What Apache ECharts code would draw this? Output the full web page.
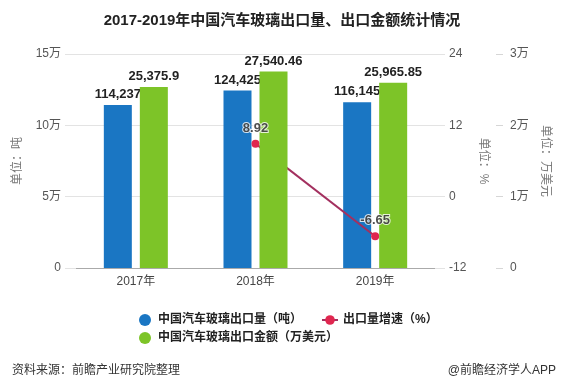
<!DOCTYPE html>
<html>
<head>
<meta charset="utf-8">
<script src="https://cdn.jsdelivr.net/npm/echarts@6/dist/echarts.min.js"></script>
<style>
html,body{margin:0;padding:0;background:#fff;}
#chart{width:564px;height:387px;}
</style>
</head>
<body>
<div id="chart"></div>
<script>
const categories = ['2017年', '2018年', '2019年'];
const exportVolume = [114237, 124425, 116145];
const exportGrowth = [null, 8.92, -6.65];
const exportValue = [25375.9, 27540.46, 25965.85];
const leftTickLabels = ['0', '5万', '10万', '15万'];
const midTickLabels = ['-12', '0', '12', '24'];
const rightTickLabels = ['0', '1万', '2万', '3万'];
const seriesNames = ['中国汽车玻璃出口量（吨）', '出口量增速（%）', '中国汽车玻璃出口金额（万美元）'];

const FONT = "'Liberation Sans', 'Noto Sans CJK SC', sans-serif";
const fmt = v => Number(v).toLocaleString('en-US', {maximumFractionDigits: 2});

const chart = echarts.init(document.getElementById('chart'), null, {renderer: 'canvas'});
const labelStyle = {
  show: true, position: 'top', distance: 4,
  color: '#222', fontSize: 13, fontWeight: 'bold', fontFamily: FONT,
  textBorderColor: '#fff', textBorderWidth: 2,
  formatter: p => fmt(p.value)
};
const legendText = {fontSize: 12, color: '#222', fontWeight: 'bold', fontFamily: FONT};
const option = {
  backgroundColor: '#fff',
  textStyle: {fontFamily: FONT},
  title: [
    {text: '2017-2019年中国汽车玻璃出口量、出口金额统计情况', left: 'center', top: 8,
     textStyle: {fontSize: 15, fontWeight: 'bold', color: '#222', fontFamily: FONT}},
    {text: '资料来源：前瞻产业研究院整理', left: 7, top: 360,
     textStyle: {fontSize: 12, fontWeight: 'normal', color: '#333', fontFamily: FONT}},
    {text: '@前瞻经济学人APP', right: 3, top: 360,
     textStyle: {fontSize: 12, fontWeight: 'normal', color: '#333', fontFamily: FONT}}
  ],
  legend: [
    {data: [{name: seriesNames[0], icon: 'circle'}, {name: seriesNames[1]}],
     left: 134, top: 309, itemWidth: 16, itemHeight: 12, itemGap: 19, textStyle: legendText},
    {data: [{name: seriesNames[2], icon: 'circle'}],
     left: 134, top: 327, itemWidth: 16, itemHeight: 12, textStyle: legendText}
  ],
  grid: {left: 76, right: 129, top: 54, bottom: 119, containLabel: false},
  xAxis: {
    type: 'category', data: categories,
    axisLine: {lineStyle: {color: '#aaa'}},
    axisTick: {alignWithLabel: true, length: 4, lineStyle: {color: '#aaa'}},
    axisLabel: {color: '#444', fontSize: 12, margin: 8}
  },
  yAxis: [
    {type: 'value', min: 0, max: 150000, interval: 50000, position: 'left',
     name: '单位：吨', nameLocation: 'middle', nameGap: 52, nameRotate: 90,
     nameTextStyle: {color: '#777', fontSize: 12},
     axisLine: {show: false},
     axisTick: {show: true, length: 11, lineStyle: {color: '#e3e3e3'}},
     axisLabel: {color: '#555', fontSize: 12, margin: 15, formatter: (v, i) => leftTickLabels[i]},
     splitLine: {lineStyle: {color: '#e3e3e3'}}},
    {type: 'value', min: -12, max: 24, interval: 12, position: 'right',
     name: '单位：%', nameLocation: 'middle', nameGap: 39, nameRotate: -90,
     nameTextStyle: {color: '#777', fontSize: 12},
     axisLine: {show: false},
     axisTick: {show: true, length: 10, lineStyle: {color: '#e3e3e3'}},
     axisLabel: {color: '#555', fontSize: 12, margin: 14, formatter: (v, i) => midTickLabels[i]},
     splitLine: {show: false}},
    {type: 'value', min: 0, max: 30000, interval: 10000, position: 'right', offset: 61,
     name: '单位：万美元', nameLocation: 'middle', nameGap: 43, nameRotate: -90,
     nameTextStyle: {color: '#777', fontSize: 12},
     axisLine: {show: false},
     axisTick: {show: true, length: 7, lineStyle: {color: '#d6d6d6'}},
     axisLabel: {color: '#555', fontSize: 12, margin: 14, formatter: (v, i) => rightTickLabels[i]},
     splitLine: {show: false}}
  ],
  series: [
    {name: seriesNames[0], type: 'bar', data: exportVolume, yAxisIndex: 0, z: 2,
     barWidth: 28, barGap: '28.6%', itemStyle: {color: '#1a76c3'}, label: labelStyle},
    {name: seriesNames[1], type: 'line', data: exportGrowth, yAxisIndex: 1, z: 2,
     symbol: 'circle', symbolSize: 8, showSymbol: true,
     itemStyle: {color: '#e0264f'}, lineStyle: {color: '#a3305f', width: 2},
     label: {show: false}},
    {name: seriesNames[2], type: 'bar', data: exportValue, yAxisIndex: 2, z: 3,
     barWidth: 28, itemStyle: {color: '#7dc428'}, label: labelStyle},
    {name: 'growthLabels', type: 'scatter', data: exportGrowth, yAxisIndex: 1, z: 5,
     symbol: 'circle', symbolSize: 8, silent: true, itemStyle: {color: 'rgba(0,0,0,0)'},
     label: Object.assign({}, labelStyle, {distance: 5})}
  ]
};
chart.setOption(option);
</script>
</body>
</html>
